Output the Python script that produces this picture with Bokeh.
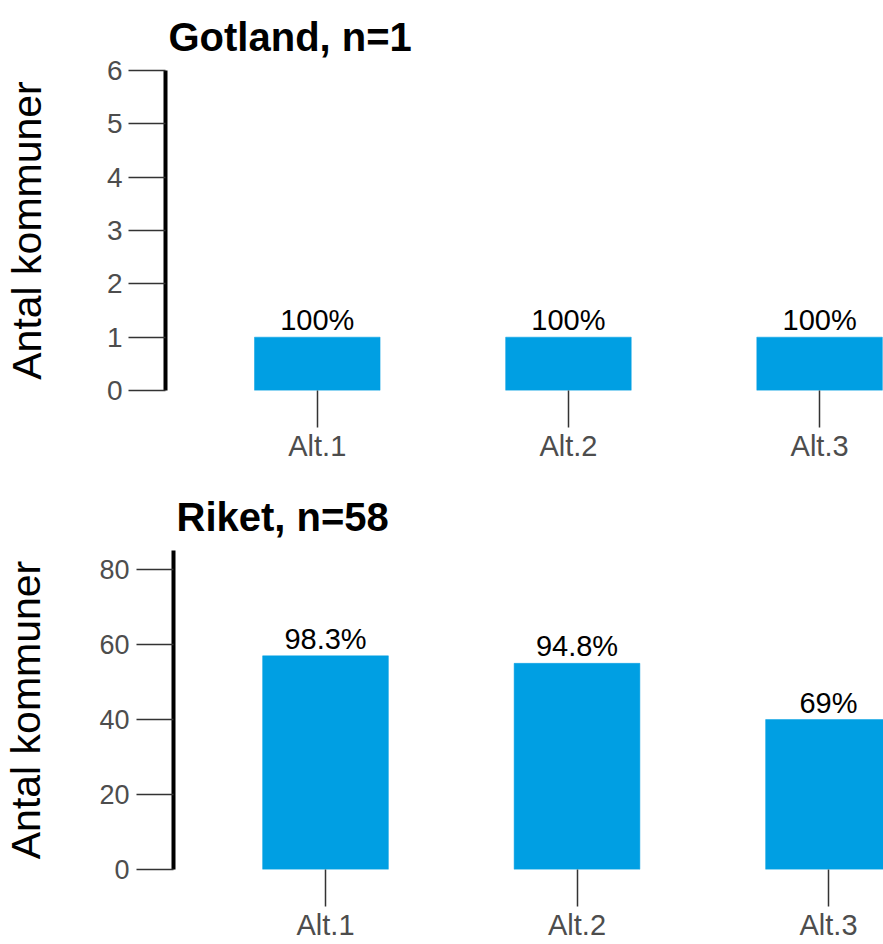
from bokeh.plotting import figure
from bokeh.models import Range1d, FixedTicker, ColumnDataSource
from bokeh.core.properties import value
from bokeh.embed import file_html
from bokeh.resources import INLINE

# ---- data ----
categories = ["Alt.1", "Alt.2", "Alt.3"]
gotland_counts = [1, 1, 1]
gotland_labels = ["100%", "100%", "100%"]
riket_counts = [57, 55, 40]
riket_labels = ["98.3%", "94.8%", "69%"]
gotland_yticks = [0, 1, 2, 3, 4, 5, 6]
riket_yticks = [0, 20, 40, 60, 80]
gotland_title = "Gotland, n=1"
riket_title = "Riket, n=58"
y_label = "Antal kommuner"

FONT = "Liberation Sans"
BAR = "#009FE3"
WIDTH = 883
PX_PER_CAT = 251.5
LEFT_PAD = 152.0


def make_panel(title, counts, labels, yticks, ymax, height, frame_left, border_top,
               border_bottom, label_standoff, ytick_size, ytick_standoff):
    pos = list(range(len(categories)))
    frame_w = WIDTH - frame_left
    x_start = -LEFT_PAD / PX_PER_CAT
    x_end = x_start + frame_w / PX_PER_CAT
    p = figure(width=WIDTH, height=height, output_backend="svg", toolbar_location=None,
               x_range=Range1d(x_start, x_end), y_range=Range1d(0, ymax),
               min_border_left=frame_left, min_border_right=0,
               min_border_top=border_top, min_border_bottom=border_bottom)
    p.outline_line_color = None
    p.grid.grid_line_color = None
    p.background_fill_color = "white"
    p.border_fill_color = "white"

    src = ColumnDataSource(dict(x=pos, top=counts, lab=labels))
    p.vbar(x="x", top="top", width=0.5, source=src, fill_color=BAR, line_color=BAR,
           line_width=0.5)
    p.text(x="x", y="top", text="lab", source=src, text_align="center",
           text_baseline="bottom", y_offset=-1, text_font=value(FONT),
           text_font_size="29px", text_color="black")

    p.title.text = title
    p.title.text_font = FONT
    p.title.text_font_size = "40px"
    p.title.text_font_style = "bold"
    p.title.text_color = "black"
    p.title.align = "left"
    p.title.offset = 3
    p.title.standoff = 23

    xa = p.xaxis[0]
    xa.ticker = FixedTicker(ticks=pos)
    xa.major_label_overrides = {i: c for i, c in zip(pos, categories)}
    xa.axis_line_color = None
    xa.major_tick_out = 37
    xa.major_tick_in = 0
    xa.minor_tick_out = 0
    xa.minor_tick_in = 0
    xa.major_tick_line_color = "#333333"
    xa.major_tick_line_width = 1.5
    xa.major_label_standoff = 2
    xa.major_label_text_font = FONT
    xa.major_label_text_font_size = "29px"
    xa.major_label_text_color = "#4d4d4d"

    ya = p.yaxis[0]
    ya.ticker = FixedTicker(ticks=yticks)
    ya.axis_line_color = "black"
    ya.axis_line_width = 4
    ya.major_tick_out = 37
    ya.major_tick_in = 0
    ya.minor_tick_out = 0
    ya.minor_tick_in = 0
    ya.major_tick_line_color = "#333333"
    ya.major_tick_line_width = 1.5
    ya.major_label_standoff = ytick_standoff
    ya.major_label_text_font = FONT
    ya.major_label_text_font_size = ytick_size
    ya.major_label_text_color = "#4d4d4d"
    ya.axis_label = y_label
    ya.axis_label_text_font = FONT
    ya.axis_label_text_font_size = "41px"
    ya.axis_label_text_font_style = "normal"
    ya.axis_label_text_color = "black"
    ya.axis_label_standoff = label_standoff
    return p


p1 = make_panel(gotland_title, gotland_counts, gotland_labels, gotland_yticks, 6,
                height=470, frame_left=164, border_top=70, border_bottom=80,
                label_standoff=54, ytick_size="28px", ytick_standoff=6)
p2 = make_panel(riket_title, riket_counts, riket_labels, riket_yticks, 85.1,
                height=474, frame_left=173, border_top=80, border_bottom=75,
                label_standoff=47, ytick_size="27px", ytick_standoff=7)

open("out.html", "w").write(file_html([p1, p2], INLINE))
